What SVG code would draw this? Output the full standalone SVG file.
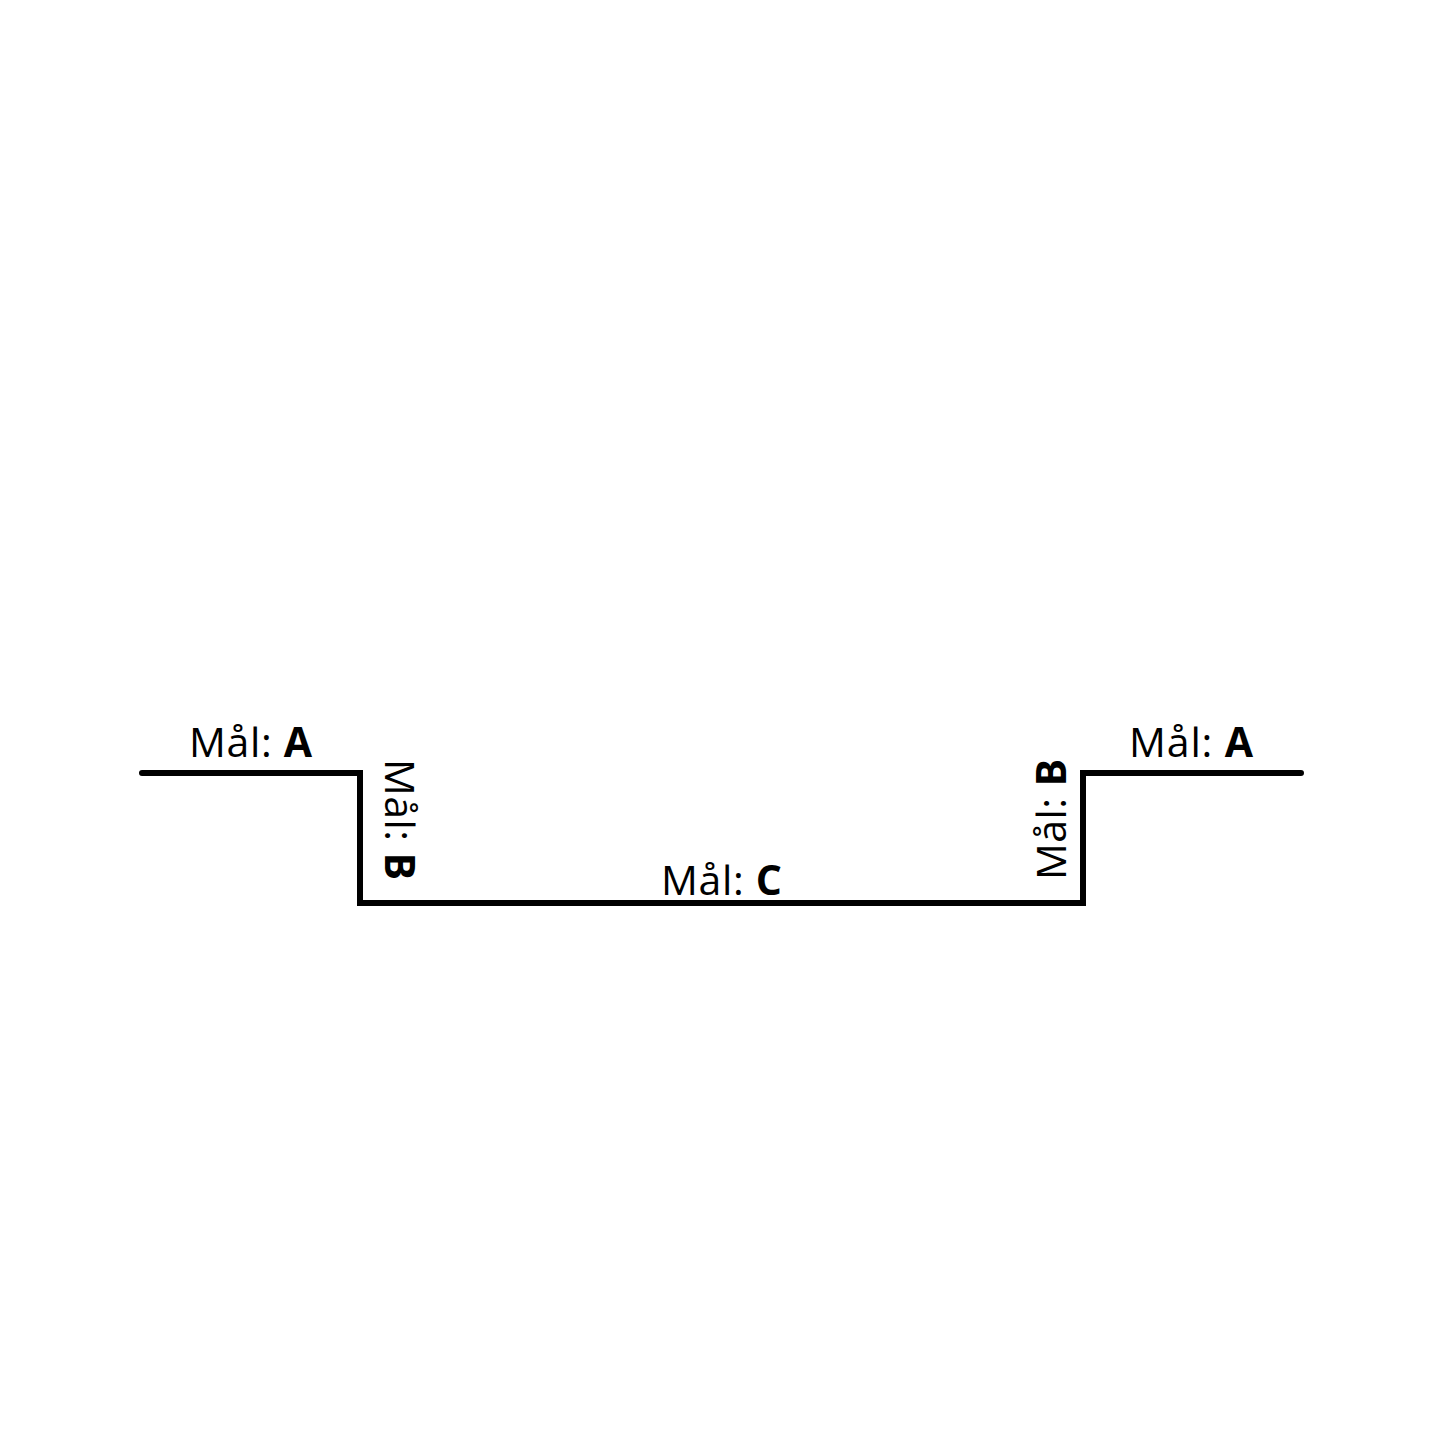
<svg xmlns="http://www.w3.org/2000/svg" width="1445" height="1445" viewBox="0 0 1445 1445">
<style>
text{font-family:"Open Sans","Noto Sans",sans-serif;font-size:41px;fill:#000}
.b{font-weight:bold}
</style>
<rect width="1445" height="1445" fill="#fff"/>
<g id="connectors">
<path d="M142 773 H360 V903 H1083 V773 H1301" fill="none" stroke="#000" stroke-width="6" stroke-linecap="round" stroke-linejoin="miter"/>
</g>
<g id="label-a-left"><text x="189" y="757" textLength="123">Mål: <tspan class="b">A</tspan></text></g>
<g id="label-a-right"><text x="1129" y="757" textLength="124">Mål: <tspan class="b">A</tspan></text></g>
<g id="label-c"><text x="661" y="895" textLength="121">Mål: <tspan class="b">C</tspan></text></g>
<g id="label-b-left"><text transform="translate(385,759) rotate(90)" textLength="121">Mål: <tspan class="b">B</tspan></text></g>
<g id="label-b-right"><text transform="translate(1066,880) rotate(-90)" textLength="121">Mål: <tspan class="b">B</tspan></text></g>
</svg>
